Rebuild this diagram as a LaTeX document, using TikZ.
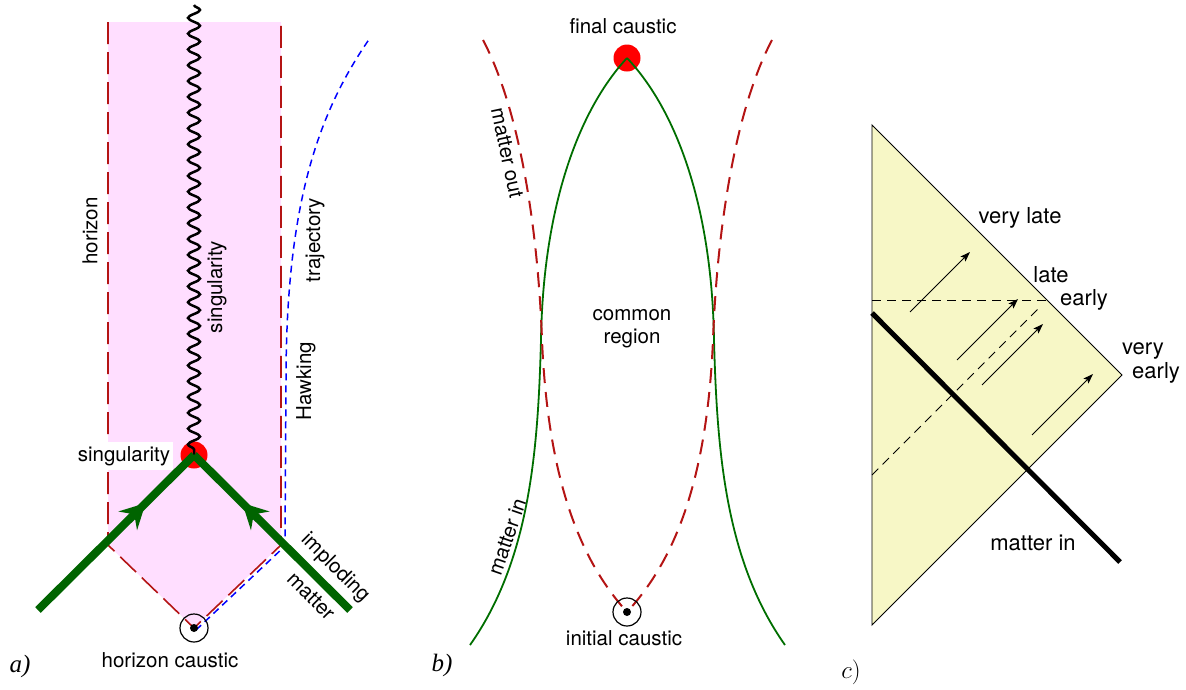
\documentclass[tikz,border=0pt]{standalone}
\usepackage{fontspec}
\setmainfont{TeX Gyre Heros}
\newfontfamily\serifit{Liberation Serif}
\usetikzlibrary{arrows.meta,decorations.pathmorphing,decorations.markings}
\definecolor{pinkfill}{RGB}{255,222,255}
\definecolor{yelfill}{RGB}{247,247,198}
\definecolor{dred}{RGB}{180,20,20}
\definecolor{dgreen}{RGB}{0,100,0}
\definecolor{bgreen}{RGB}{0,110,0}
\tikzset{
  lab/.style={font=\fontsize{20.5}{24}\selectfont, inner sep=0pt, align=center},
  labc/.style={font=\fontsize{22}{26}\selectfont, inner sep=0pt, align=center},
  panel/.style={font=\fontsize{25}{30}\selectfont\serifit\itshape, inner sep=0pt},
  reddash/.style={draw=dred, line width=1.6pt, dash pattern=on 22pt off 8pt},
  reddashb/.style={draw=dred, line width=2pt, dash pattern=on 15pt off 9pt},
  bluedash/.style={draw=blue, line width=1.5pt, dash pattern=on 7pt off 5pt},
  greenthick/.style={draw=dgreen, line width=8pt},
  greenthin/.style={draw=bgreen, line width=1.8pt},
  midarrow/.style={postaction={decorate}, decoration={markings, mark=at position #1 with {\arrow{Stealth[length=25pt,width=26pt,inset=9pt]}}}},
  thinarrow/.style={draw, line width=1pt, -{Stealth[length=10pt,width=7pt,inset=2pt]}},
  reddot/.style={circle, fill=red, minimum size=27pt, inner sep=0pt},
  causticring/.style={circle, draw, line width=1.2pt, minimum size=28pt, inner sep=0pt},
  blackdot/.style={circle, fill=black, minimum size=8pt, inner sep=0pt}
}
\begin{document}
\begin{tikzpicture}[x=1pt,y=-1pt]
\path[use as bounding box] (0,0) rectangle (1186,689);
% ---------- panel a ----------
\coordinate (aTL) at (108,22);
\coordinate (aTR) at (281,22);
\coordinate (aBL) at (108,545);
\coordinate (aBR) at (281,545);
\coordinate (aHC) at (194,628);
\fill[pinkfill] (aTL) -- (aBL) -- (aHC) -- (aBR) -- (aTR) -- cycle;
\draw[reddash] (aTL) -- (aBL) -- (aHC) -- (aBR) -- (aTR);
\coordinate (bl1) at (196,630);
\coordinate (bl2) at (285,546);
\coordinate (bl3) at (286,380);
\coordinate (bl4) at (370,38);
\draw[bluedash] (bl1) -- (bl2) -- (bl3) .. controls (286,200) and (320,110) .. (bl4);
\coordinate (wtop) at (194,5);
\node[reddot] (sing) at (194,455) {};
\draw[line width=2.5pt, decorate, decoration={snake, segment length=15.8pt, amplitude=6pt}] (wtop) -- (sing.center);
\coordinate (gL) at (38,610);
\coordinate (gR) at (350,610);
\draw[greenthick, midarrow=0.69] (gL) -- (sing.center);
\draw[greenthick, midarrow=0.69] (gR) -- (sing.center);
\node[causticring] (hc) at (aHC) {};
\node[blackdot] at (aHC) {};
\node[lab, fill=white, inner xsep=3pt, inner ysep=4pt] (singlab) at (124,456) {singularity};
\node[lab, rotate=90] (horlab) at (90,231) {horizon};
\node[lab, rotate=90] (singvlab) at (217,287) {singularity};
\node[lab, rotate=90] (trajlab) at (315,240) {trajectory};
\node[lab, rotate=90] (hawklab) at (306,381) {Hawking};
\node[lab, rotate=-45] (implab) at (335,568) {imploding};
\node[lab, rotate=-45] (matlab) at (311,596) {matter};
\node[lab] (hclab) at (170,660) {horizon caustic};
\node[panel] (pa) at (20,666) {a)};
% ---------- panel b ----------
\node[reddot] (fc) at (627,58) {};
\node[lab] (fclab) at (623,26) {final caustic};
\coordinate (ic) at (627,612);
\draw[greenthin] (470,645) .. controls (530,560) and (538,450) .. (541,340) .. controls (543,210) and (577,112) .. (fc.center);
\draw[greenthin] (785,645) .. controls (725,560) and (717,450) .. (714,340) .. controls (712,210) and (678,112) .. (fc.center);
\draw[reddashb] (483,40) .. controls (520,110) and (538,230) .. (542,340) .. controls (548,480) and (580,560) .. (ic);
\draw[reddashb] (772,40) .. controls (735,110) and (717,230) .. (713,340) .. controls (707,480) and (675,560) .. (ic);
\node[causticring] (icr) at (ic) {};
\node[blackdot] at (ic) {};
\node[lab] (iclab) at (624,638) {initial caustic};
\node[lab] (comlab) at (632,329) {common\\[-1pt]region};
\node[lab, rotate=-78] (molab) at (507,153) {matter out};
\node[lab, rotate=71] (milab) at (507,537) {matter in};
\node[panel] (pb) at (442,665) {b)};
% ---------- panel c ----------
\coordinate (cT) at (872,125);
\coordinate (cB) at (872,625);
\coordinate (cR) at (1122,375);
\filldraw[fill=yelfill, draw=black, line width=0.9pt] (cT) -- (cR) -- (cB) -- cycle;
\coordinate (dh1) at (872,300);
\coordinate (dh2) at (1046,300);
\draw[line width=1pt, dash pattern=on 9pt off 6pt] (dh1) -- (dh2);
\coordinate (dd1) at (872,475);
\coordinate (dd2) at (1041,306);
\draw[line width=1pt, dash pattern=on 9pt off 6pt] (dd1) -- (dd2);
\coordinate (m1) at (872,313);
\coordinate (m2) at (1120,562);
\draw[line width=5pt] (m1) -- (m2);
\coordinate (a1s) at (910,312); \coordinate (a1e) at (970,252);
\coordinate (a2s) at (957,360); \coordinate (a2e) at (1018,299);
\coordinate (a3s) at (982,385); \coordinate (a3e) at (1043,324);
\coordinate (a4s) at (1032,435); \coordinate (a4e) at (1093,374);
\draw[thinarrow] (a1s) -- (a1e);
\draw[thinarrow] (a2s) -- (a2e);
\draw[thinarrow] (a3s) -- (a3e);
\draw[thinarrow] (a4s) -- (a4e);
\node[labc] (vl) at (1020,218) {very late};
\node[labc] (lt) at (1051,275) {late};
\node[labc] (er) at (1084,300) {early};
\node[labc] (ve1) at (1143,351) {very};
\node[labc] (ve2) at (1156,373) {early};
\node[labc] (mic) at (1033,543) {matter in};
\node[inner sep=0pt, font=\fontsize{26}{30}\selectfont] (pc) at (851,672) {$c)$};
\end{tikzpicture}
\end{document}
